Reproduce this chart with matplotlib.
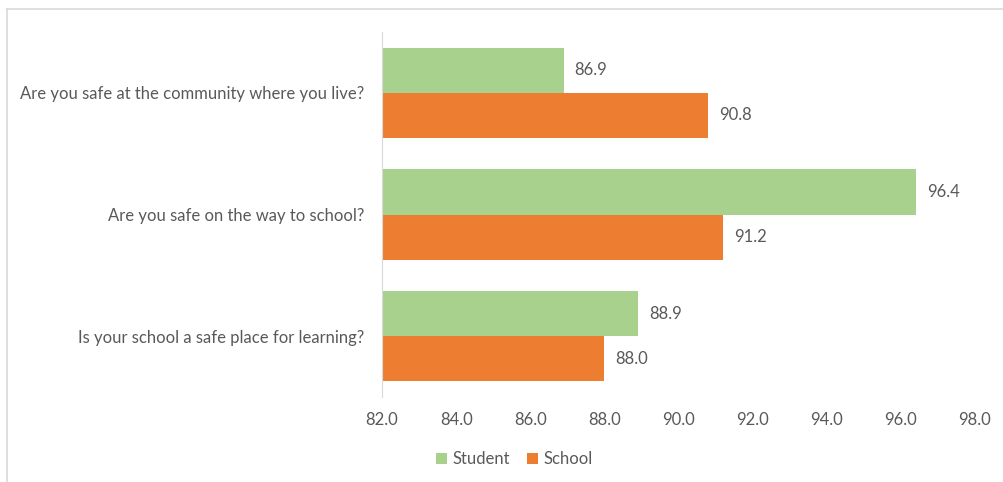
import numpy as np
import matplotlib.pyplot as plt
from matplotlib.lines import Line2D

# data
questions = ["Are you safe at the community where you live?",
             "Are you safe on the way to school?",
             "Is your school a safe place for learning?"]
student = [86.9, 96.4, 88.9]
school = [90.8, 91.2, 88.0]
xticks = [82.0, 84.0, 86.0, 88.0, 90.0, 92.0, 94.0, 96.0, 98.0]

green = "#A9D18E"
orange = "#ED7D31"
grey = "#595959"

plt.rcParams['font.family'] = ['Lato', 'DejaVu Sans']
fs = 12

fig = plt.figure(figsize=(10.04, 4.82), dpi=100)
ax = fig.add_axes([0.3805, 0.1763, 0.5905, 0.7573])

y = np.arange(len(questions))
h = 0.37
base = 82.0
ax.barh(y - h / 2, np.array(student) - base, left=base, height=h, color=green, label="Student")
ax.barh(y + h / 2, np.array(school) - base, left=base, height=h, color=orange, label="School")

for i in range(len(questions)):
    ax.text(student[i] + 0.3, y[i] - h / 2, f"{student[i]:.1f}", va="center", ha="left",
            fontsize=fs, color=grey)
    ax.text(school[i] + 0.3, y[i] + h / 2, f"{school[i]:.1f}", va="center", ha="left",
            fontsize=fs, color=grey)

ax.set_xlim(82, 98)
ax.set_ylim(2.5, -0.5)
ax.set_xticks(xticks)
ax.set_xticklabels([f"{t:.1f}" for t in xticks], fontsize=fs, color=grey)
ax.set_yticks(y)
ax.set_yticklabels(questions, fontsize=fs, color=grey)
ax.tick_params(length=0)
ax.tick_params(axis="x", pad=11)
ax.tick_params(axis="y", pad=12.5)
for s in ["top", "right", "bottom"]:
    ax.spines[s].set_visible(False)
ax.spines["left"].set_color("#D9D9D9")

fig.legend(loc="center", bbox_to_anchor=(0.512, 0.047), ncol=2, frameon=False,
           fontsize=fs, handlelength=0.7, handleheight=0.7, handletextpad=0.3,
           columnspacing=1.0, labelcolor=grey)

# chart border (top and left visible)
fig.add_artist(Line2D([0.007, 1.0], [0.981, 0.981], color="#D9D9D9", lw=1.2, transform=fig.transFigure))
fig.add_artist(Line2D([0.007, 0.007], [0.0, 0.981], color="#D9D9D9", lw=1.2, transform=fig.transFigure))

fig.savefig("out.png", dpi=100)
